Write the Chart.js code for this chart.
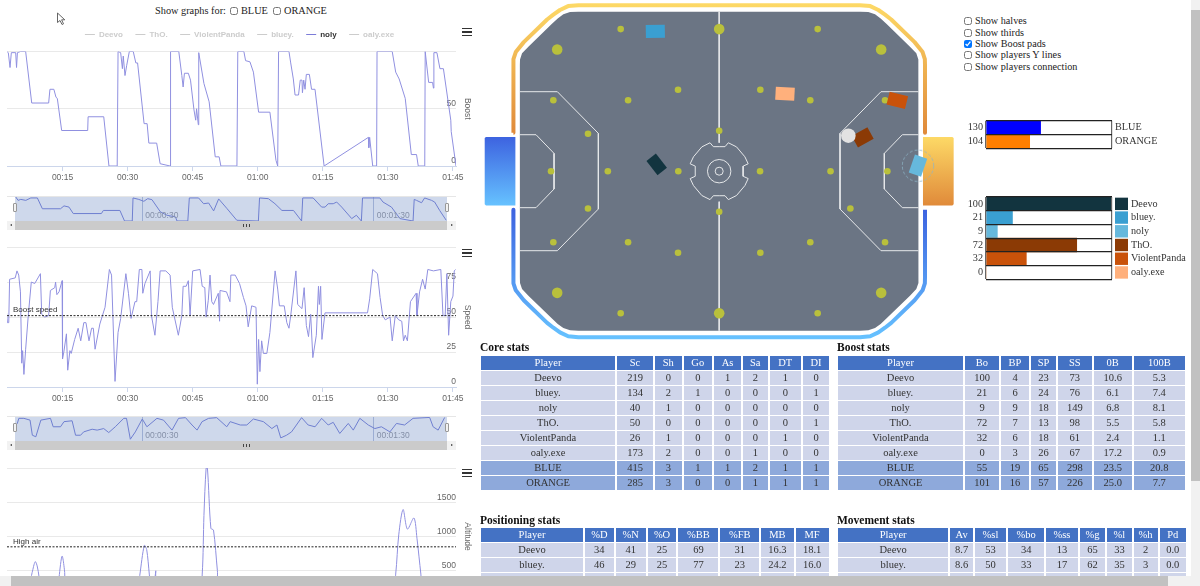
<!DOCTYPE html>
<html><head><meta charset="utf-8">
<script src="https://cdn.jsdelivr.net/npm/chart.js@4/dist/chart.umd.js"></script>
<style>
html,body{margin:0;padding:0;width:1200px;height:586px;overflow:hidden;background:#fff;font-family:"Liberation Serif",serif;color:#222}
canvas{position:absolute;display:block}
.abs{position:absolute}
.h{position:absolute;font-weight:bold;font-size:11.5px;color:#111;white-space:nowrap}
.opt{position:absolute;left:964px;font-size:10.2px;line-height:11px;white-space:nowrap;height:11px}
.top{position:absolute;top:5px;font-size:10.3px;line-height:12px;white-space:nowrap}
input[type=checkbox]{width:8px;height:8px;margin:0 3px 0 0;vertical-align:-1px}
table{position:absolute;border-collapse:separate;border-spacing:2px 1px;table-layout:fixed;font-size:10.5px;color:#333;text-align:center}
th{background:#4472c4;color:#fff;font-weight:normal;height:14px;padding:0;line-height:14px}
td{background:#cfd5ea;height:14px;padding:0;line-height:14px}
tr.team td{background:#8ea9db}
.burger{position:absolute;left:462px;width:10px;height:9px;border-top:1.7px solid #333;box-sizing:border-box}
.burger:before,.burger:after{content:"";position:absolute;left:0;width:10px;height:1.7px;background:#333}
.burger:before{top:1.9px}.burger:after{top:5.6px}
.track{position:absolute;left:7px;width:449px;height:9px;background:#f2f2f2}
.thumb{position:absolute;left:15px;width:432px;height:9px;background:#cbcbcb}
.grip{position:absolute;left:228px;top:3px;width:5px;height:3px;border-left:1px solid #444;border-right:1px solid #444}
.grip:after{content:"";position:absolute;left:1.5px;top:0;width:1px;height:3px;background:#444}
.arrL,.arrR{position:absolute;top:3px;width:0;height:0;border-top:1.5px solid transparent;border-bottom:1.5px solid transparent}
.arrL{left:3px;border-right:2.5px solid #333}.arrR{left:443.5px;border-left:2.5px solid #333}
.handle{position:absolute;width:4px;height:9px;background:#f2f2f2;border:1px solid #999;box-sizing:border-box;border-radius:1px}
.navtop{position:absolute;left:7px;width:449px;height:1px;background:#e6e6e6}
</style></head>
<body>
<div class="top" style="left:155px">Show graphs for:</div>
<div class="top" style="left:230px"><input type="checkbox">BLUE</div>
<div class="top" style="left:273px"><input type="checkbox">ORANGE</div>
<svg class="abs" style="left:56px;top:12px" width="10" height="14" viewBox="0 0 10 14"><path d="M1.5 1 L1.5 10.5 L4 8.5 L6 12.5 L7.5 11.8 L5.6 7.8 L8.8 7.8 Z" fill="#fff" stroke="#555" stroke-width="0.9"/></svg>

<canvas id="boostChart" width="472" height="168" style="left:0;top:18px"></canvas>
<div class="burger" style="top:28px"></div>
<div class="navtop" style="top:196px"></div>
<canvas id="boostNav" width="432" height="24" style="left:15px;top:197px"></canvas>
<div class="track" style="top:221px"><div class="thumb" style="left:8px"><div class="grip"></div></div><div class="arrL"></div><div class="arrR"></div></div>
<div class="handle" style="left:13px;top:203px"></div><div class="handle" style="left:445px;top:203px"></div>

<canvas id="speedChart" width="472" height="165" style="left:0;top:242px"></canvas>
<div class="burger" style="top:249px"></div>
<div class="navtop" style="top:416px"></div>
<canvas id="speedNav" width="432" height="24" style="left:15px;top:417px"></canvas>
<div class="track" style="top:441px"><div class="thumb" style="left:8px"><div class="grip"></div></div><div class="arrL"></div><div class="arrR"></div></div>
<div class="handle" style="left:13px;top:423px"></div><div class="handle" style="left:445px;top:423px"></div>

<canvas id="altChart" width="472" height="162" style="left:0;top:463px"></canvas>
<div class="burger" style="top:469px"></div>

<canvas id="pitch" width="480" height="342" style="left:480px;top:0"></canvas>

<div class="opt" style="top:15px"><input type="checkbox">Show halves</div>
<div class="opt" style="top:26.5px"><input type="checkbox">Show thirds</div>
<div class="opt" style="top:38px"><input type="checkbox" checked>Show Boost pads</div>
<div class="opt" style="top:49px"><input type="checkbox">Show players Y lines</div>
<div class="opt" style="top:60.5px"><input type="checkbox">Show players connection</div>

<canvas id="teamBars" width="210" height="38" style="left:960px;top:115px"></canvas>
<canvas id="playerBars" width="230" height="92" style="left:960px;top:192px"></canvas>

<div class="h" style="left:480px;top:341px">Core stats</div>
<table id="coreT" style="left:479px;top:355px"></table>
<div class="h" style="left:837px;top:341px">Boost stats</div>
<table id="boostT" style="left:836px;top:355px"></table>
<div class="h" style="left:480px;top:514px">Positioning stats</div>
<table id="posT" style="left:479px;top:527px"></table>
<div class="h" style="left:837px;top:514px">Movement stats</div>
<table id="moveT" style="left:836px;top:527px"></table>

<div class="abs" style="left:1191px;top:0;width:9px;height:576px;background:#f1f1f1"><div class="abs" style="left:0;top:10px;width:9px;height:471px;background:#c1c1c1"></div></div>
<div class="abs" style="left:0;top:576px;width:1200px;height:10px;background:#f1f1f1"><div class="abs" style="left:11px;top:0;width:1157px;height:10px;background:#c1c1c1"></div></div>

<script>
// ---------- players ----------
const players = ['Deevo','bluey.','noly','ThO.','ViolentPanda','oaly.exe'];
const legendOrder = ['Deevo','ThO.','ViolentPanda','bluey.','noly','oaly.exe'];
const activePlayer = 'noly';
const playerColors = ['#12343f','#3a9fd1','#66b8dc','#8b3a05','#c9520a','#ffb07c'];
const playerBoost = [100,21,9,72,32,0];
const teams = ['BLUE','ORANGE'];
const teamColors = ['#0000ff','#ff7f00'];
const teamBoost = [130,104];

// ---------- boost (noly) ----------
const boostTimes = [2.2,2.5,2.9,3.2,4.2,4.4,4.6,5.3,6.5,7.9,11.8,12.1,13.0,13.5,13.8,14.8,20.8,20.9,24.5,25.7,27.6,27.8,28.4,28.8,29.0,29.4,29.8,30.4,31.3,31.9,32.3,33.8,34.5,34.9,36.7,37.5,39.8,39.9,41.8,42.5,42.8,43.1,44.0,44.5,45.3,45.7,45.9,46.3,46.4,47.6,48.8,50.2,51.1,51.5,55.2,55.4,56.8,57.2,58.2,59.0,60.2,62.8,64.2,64.6,64.8,67.2,67.6,68.2,68.6,69.4,69.8,70.2,70.3,70.6,70.9,71.2,71.9,72.4,73.2,75.3,85.5,85.6,85.8,86.5,87.4,87.5,91.0,91.8,92.6,94.0,95.4,96.6,97.0,98.5,98.6,99.4,100.3,100.5,100.6,101.3,102,102.8,104.5,104.6,105.7];
const boostValues = [100,99,86,99,99,86,99,100,100,55,55,67,67,60,59,31,31,43,43,0,0,100,99,85,96,79,88,100,100,90,90,37,37,20,20,2,0,100,100,79,69,81,81,75,49,40,50,36,99,72,56,8,8,0,0,100,100,92,91,82,47,47,5,0,100,100,90,76,62,62,75,75,64,75,67,80,80,67,67,0,25,16,25,0,0,100,100,82,76,59,10,10,0,0,100,73,73,68,99,99,85,85,40,30,0];
const boostNavTimes = [-2.8,-2.2,-1.5,-0.2,1.1,2.8,4.1,8.8,9.7,11,12.1,19.4,19.9,24.2,25.4,27.4,27.6,29.1,30.4,31.4,32.5,34.7,36.4,38.6,39,41.8,42.2,44.6,45.9,47.2,48.5,49.8,52,54.5,60.1,60.4,62.7,64.4,66.2,69.2,71.3,71.6,74.3,76.5,77.4,78.2,79.5,80.4,81.7,84.3,85.5,86.8,87.1,91.6,92.4,94.6,96.8,100.2,100.5,101.1,102.4,103.2,105,105.8,107.1,108.8];
const boostNavValues = [100,86,90,86,96,96,51,51,63,58,31,31,44,44,0,0,96,90,82,93,89,38,24,17,0,0,96,96,72,75,42,92,51,3,0,96,93,72,44,44,0,96,96,58,58,72,72,79,58,10,24,0,96,96,79,58,10,0,90,86,76,96,86,79,44,3];

// ---------- speed (noly) ----------
const speedTimes = [2.1,2.3,2.6,2.8,4.1,4.5,4.9,5.3,5.6,5.8,6.1,6.5,7.1,7.8,8.6,9.9,10.2,10.9,11.8,12.2,13.2,13.4,13.7,14.2,14.9,15.0,15.3,15.9,16.2,16.7,17.0,17.8,18.6,19.2,19.9,20.4,21.1,21.7,22.1,22.5,23.6,24.8,25.8,26.3,27.1,27.8,28.4,29.6,30.2,30.8,31.7,32.1,32.7,33.3,33.5,34,35.2,35.5,36.3,37,37.5,38.8,39.8,40.3,41.7,42.5,42.8,43.5,44,44.4,45,46.7,47.2,47.8,48.1,48.6,49,49.4,49.8,50.9,51.2,51.3,52.8,53.6,53.8,54.8,55.8,56.7,57.3,57.8,58.6,59.6,59.9,60.2,60.5,60.9,61.3,62.1,62.8,64,64.6,65,66.1,66.7,67.2,67.6,68.8,69.2,70.2,70.7,71.2,71.7,72.2,72.7,73.5,74,74.2,74.5,74.8,75.5,85.3,85.8,86.5,87.6,88.2,88.8,89.4,90.5,91,91.7,92.5,93.2,93.6,94,94.5,95.2,96.5,96.7,97.3,98,98.6,99.2,100.5,102.2,102.7,103.2,103.6,104,104.5,105,105.3,105.6];
const speedValues = [53,46,46,77,78,83,80,68,17,26,9,27,51,75,74,81,52,50,51,69,71,75,66,68,76,20,25,38,12,26,24,34,42,33,46,46,33,42,42,27,45,57,84,80,4,39,49,81,67,49,61,61,84,84,67,74,83,51,37,61,83,83,80,57,37,51,72,72,76,51,83,84,72,71,50,62,80,61,59,67,47,69,68,61,80,80,74,64,58,43,58,57,2,34,11,33,24,24,39,83,70,58,58,46,42,51,83,59,56,71,44,36,52,21,37,72,59,72,34,53,53,63,84,81,64,51,48,50,33,51,48,47,33,37,33,61,67,51,68,77,70,84,83,84,51,51,81,37,61,65,83,84];
const speedNavTimes = [-2.8,-2.4,-2,-0.7,0.9,1.5,2.4,3.7,6.2,6.9,8.8,9.7,11.8,12.7,14,14.8,17,18.3,20,21.3,23,25.2,25.9,26.9,28.2,30,31.2,33.8,35.5,37.7,39.4,41.2,42.9,44.2,45.5,47.2,49.3,51.9,52.8,55.4,57.1,58.8,61.4,63.6,64.9,65.9,67.4,68.7,71.3,73,74.8,76.5,78.2,79.5,81.2,83.4,84.7,86.4,88.6,90.3,92,94.2,95.9,98,100.2,104.5,105.4,106.7,108.4];
const speedNavValues = [64,71,94,94,86,18,11,86,94,56,56,79,83,18,18,33,45,41,48,30,56,94,94,0,33,91,56,94,86,41,94,97,64,41,79,94,97,56,79,64,64,91,79,48,64,6,18,33,97,64,56,94,64,76,26,71,41,94,64,48,56,33,71,64,94,98,56,41,98];

// ---------- altitude (noly) ----------
const altTimes = [2.2,7.0,7.85,8.0,8.7,9.15,9.6,10.2,13.6,14.2,14.9,15.5,16.0,31.9,32.8,33.85,34.4,35.0,35.7,36.3,36.5,36.7,46.3,47.2,47.6,48.1,48.4,49.2,49.8,50.7,51.5,90.8,91.8,92.5,93.5,94.5,96,96.7,97.6,98.4,105.7];
const altValues = [20,20,430,476,633,571,405,20,20,405,714,476,20,20,429,871,809,452,20,20,500,20,20,452,1309,2000,2000,1119,1095,500,20,20,452,1024,1395,1109,1271,976,452,20,20];

// ---------- axes and reference lines ----------
const timeMin = 2.2, timeMax = 105.7, timeStep = 15;
const navMin = -3, navMax = 109, navTicks = [30,90];
const boostSpeedLevel = 51, highAirLevel = 850;

// ---------- pitch (game units) ----------
const smallPadX = [-2530,2530,-2530,2530,-1057,1057,-1057,1057,-2340,2340,-2340,2340,-4260,4260,-4260,4260,-3370,3370,-3370,3370,-4320,4320,-2860,2860,-1050,1050,0,0];
const smallPadY = [-3650,-3650,3650,3650,-2093,-2093,2093,2093,-1824,-1824,1824,1824,-1824,-1824,1824,1824,-960,-960,960,960,0,0,0,0,0,0,-1040,1040];
const bigPadX = [-4161,4161,-4161,4161,0,0];
const bigPadY = [-3125,-3125,3125,3125,-3650,3650];
const playerX = [-1605,-1640,5107,3686,4576,1691];
const playerY = [-176,-3592,-141,-869,-1819,-1991];
const playerAngle = [52,-1,109,-29,14,3];
const ballX = [3318], ballY = [-912];
const fieldCornerL = [5120,5116,5064,4901,4302,4148,4003,3831,3617];
const fieldCornerW = [2727,2872,3027,3198,3780,3925,4028,4088,4096];
const bandCornerL = [5287,5283,5225,5020,4420,4260,4090,3880,3617];
const bandCornerW = [2727,2880,3060,3315,3897,4020,4140,4240,4263];
const bandEnd = 990;
const goalL = [5235,5235,5990,6023,6023,5990,5235];
const goalW = [-880,-880,-880,-850,850,880,880];
const penaltyL = [5120,4157,3104,3104,4157,5120];
const penaltyW = [-2042,-2042,-972,972,2042,2042];
const innerL = [5120,4705,4242,4242,4705,5120];
const innerW = [-937,-937,-458,458,937,937];
const ringA = [0,150,235,445,660,745,615,615];
const ringB = [630,630,730,625,370,190,130,0];
const midlineTop = [-4096,-732], midlineBottom = [783,4096];

// ---------- tables ----------
const coreHead = ['Player','Sc','Sh','Go','As','Sa','DT','DI'];
const coreRows = [['Deevo',219,0,0,1,2,1,0],['bluey.',134,2,1,0,0,0,1],['noly',40,1,0,0,0,0,0],['ThO.',50,0,0,0,0,0,1],['ViolentPanda',26,1,0,0,0,1,0],['oaly.exe',173,2,0,0,1,0,0],['BLUE',415,3,1,1,2,1,1],['ORANGE',285,3,0,0,1,1,1]];
const boostHead = ['Player','Bo','BP','SP','SS','0B','100B'];
const boostRows = [['Deevo',100,4,23,73,'10.6','5.3'],['bluey.',21,6,24,76,'6.1','7.4'],['noly',9,9,18,149,'6.8','8.1'],['ThO.',72,7,13,98,'5.5','5.8'],['ViolentPanda',32,6,18,61,'2.4','1.1'],['oaly.exe',0,3,26,67,'17.2','0.9'],['BLUE',55,19,65,298,'23.5','20.8'],['ORANGE',101,16,57,226,'25.0','7.7']];
const posHead = ['Player','%D','%N','%O','%BB','%FB','MB','MF'];
const posRows = [['Deevo',34,41,25,69,31,'16.3','18.1'],['bluey.',46,29,25,77,23,'24.2','16.0'],['','','','','','','','']];
const moveHead = ['Player','Av','%sl','%bo','%ss','%g','%l','%h','Pd'];
const moveRows = [['Deevo','8.7',53,34,13,65,33,2,'0.0'],['bluey.','8.6',50,33,17,62,35,3,'0.0'],['','','','','','','','','']];

// ==================== drawing ====================
const SANS = '"Liberation Sans",Arial,sans-serif';
const SERIF = '"Liberation Serif",serif';
Chart.defaults.animation = false;
Chart.defaults.responsive = false;
Chart.defaults.maintainAspectRatio = false;
Chart.defaults.font.family = SANS;
const LINE = '#9090e0';
const pts = (xs, ys) => xs.map((x, i) => ({x, y: ys[i]}));
const mmss = v => { const m = Math.floor(v / 60), s = Math.round(v - m * 60); return String(m).padStart(2,'0') + ':' + String(s).padStart(2,'0'); };
const hms = v => '00:' + mmss(v);

function levelLabel(text) {
  return { id: 'levelLabel', afterDatasetsDraw(chart, a, o) {
    const c = chart.ctx; const y = chart.scales.y.getPixelForValue(o.level);
    c.save(); c.font = '8px ' + SANS; c.fillStyle = '#333'; c.textBaseline = 'bottom';
    c.fillText(text, 13, y - 1.5); c.restore();
  }};
}

function mainChart(id, xs, ys, yTitle, yMax, yStep, level, levelText, topPad, legendOpt, tension, spacer) {
  const datasets = [{ data: pts(xs, ys), borderColor: LINE, borderWidth: 1, pointRadius: 0, tension: tension || 0 }];
  if (level !== null) datasets.unshift({ data: [{x: timeMin, y: level},{x: timeMax, y: level}], borderColor: '#222', borderWidth: 1, borderDash: [2,1.5], pointRadius: 0 });
  return new Chart(document.getElementById(id), {
    type: 'scatter',
    data: { datasets: datasets.map(d => ({...d, showLine: true})) },
    options: {
      layout: { autoPadding: false, padding: { left: 7, right: 0, top: topPad, bottom: 0 } },
      plugins: { legend: legendOpt || { display: false }, tooltip: { enabled: false }, levelLabel: { level },
        title: spacer ? { display: true, text: '', weight: 500, font: { size: 1 }, padding: { top: spacer, bottom: spacer } } : { display: false } },
      scales: {
        x: { type: 'linear', min: timeMin, max: timeMax,
          afterFit: s => { s.height = 20; },
          border: { color: '#ccd6eb' },
          grid: { drawOnChartArea: false, tickLength: 5, tickColor: '#ccd6eb' },
          ticks: { stepSize: timeStep, includeBounds: false, autoSkip: false, maxRotation: 0, padding: 2, color: '#666', font: { size: 8.5 }, callback: v => mmss(v) } },
        y: { type: 'linear', position: 'right', min: 0, max: yMax,
          afterFit: s => { s.width = 16; },
          border: { display: false },
          grid: { color: '#e9e9e9', drawTicks: false },
          title: { display: true, text: yTitle, color: '#666', font: { size: 8.5 }, padding: 0 },
          ticks: { stepSize: yStep, mirror: true, padding: 0, labelOffset: -5, color: '#666', font: { size: 8.5 }, callback: v => v === yMax ? '' : String(v) } }
      }
    },
    plugins: level !== null ? [levelLabel(levelText)] : []
  });
}

mainChart('boostChart', boostTimes, boostValues, 'Boost', 100, 50, null, '', 0, {
  display: true, position: 'top',
  labels: { usePointStyle: true, pointStyleWidth: 10, padding: 12.5, font: { size: 8, weight: 'bold' },
    generateLabels: () => legendOrder.map(n => ({ text: n, pointStyle: 'line', lineWidth: 1.2,
      strokeStyle: n === activePlayer ? '#7c7cd8' : '#ccc', fillStyle: 'transparent', fontColor: n === activePlayer ? '#333' : '#ccc', hidden: false })) }
}, 0, 0.9);
mainChart('speedChart', speedTimes, speedValues, 'Speed', 100, 25, boostSpeedLevel, 'Boost speed', 2.3);
mainChart('altChart', altTimes, altValues, 'Altitude', 2000, 500, highAirLevel, 'High air', 2, null, 0.3);

function navChart(id, xs, ys, yMin) {
  const navLabels = { id: 'navLabels', afterDraw(chart) {
    const c = chart.ctx, s = chart.scales.x;
    c.save(); c.font = '8.5px ' + SANS; c.fillStyle = '#8590a8'; c.textBaseline = 'middle';
    navTicks.forEach(t => c.fillText(hms(t), s.getPixelForValue(t) + 3, 19));
    c.restore();
  }};
  return new Chart(document.getElementById(id), {
    type: 'scatter',
    data: { datasets: [
      { data: pts(xs, ys), showLine: true, borderColor: '#6f7fd0', borderWidth: 1, pointRadius: 0 },
      { data: [{x: navMin, y: 100},{x: navMax, y: 100}], showLine: true, borderWidth: 0, pointRadius: 0, fill: 'start', backgroundColor: 'rgba(102,133,194,0.32)' }
    ] },
    options: {
      layout: { autoPadding: false, padding: 0 },
      plugins: { legend: { display: false }, tooltip: { enabled: false } },
      scales: {
        x: { type: 'linear', min: navMin, max: navMax, afterFit: s => { s.height = 0; },
          afterBuildTicks: s => { s.ticks = navTicks.map(value => ({value})); },
          border: { display: false },
          grid: { color: '#b5c0dc', drawTicks: false },
          ticks: { display: false } },
        y: { display: false, min: yMin, max: 100 }
      }
    },
    plugins: [navLabels]
  });
}
navChart('boostNav', boostNavTimes, boostNavValues, 0);
navChart('speedNav', speedNavTimes, speedNavValues, -8);

// ---------- pitch ----------
function quarterLoop(ls, ws) {
  const out = [];
  ls.forEach((l, i) => out.push({x: -l, y: -ws[i]}));
  [...ls].reverse().forEach((l, i) => out.push({x: l, y: -ws[ws.length - 1 - i]}));
  ls.forEach((l, i) => out.push({x: l, y: ws[i]}));
  [...ls].reverse().forEach((l, i) => out.push({x: -l, y: ws[ws.length - 1 - i]}));
  out.push({...out[0]});
  return out;
}
function arcTop(ls, ws, sign) {
  const out = [{x: -ls[0], y: sign * bandEnd}];
  ls.forEach((l, i) => out.push({x: -l, y: sign * ws[i]}));
  [...ls].reverse().forEach((l, i) => out.push({x: l, y: sign * ws[ws.length - 1 - i]}));
  out.push({x: ls[0], y: sign * bandEnd});
  return out;
}
function ringLoop(a, b) {
  const out = [];
  a.forEach((v, i) => out.push({x: v, y: -b[i]}));
  [...a].reverse().forEach((v, i) => out.push({x: v, y: b[b.length - 1 - i]}));
  a.forEach((v, i) => out.push({x: -v, y: b[i]}));
  [...a].reverse().forEach((v, i) => out.push({x: -v, y: -b[b.length - 1 - i]}));
  return out;
}
function vGrad(chart, v1, v2, c1, c2) {
  const sy = chart.scales.y;
  if (!sy || !chart.chartArea) return c1;
  const g = chart.ctx.createLinearGradient(0, sy.getPixelForValue(v1), 0, sy.getPixelForValue(v2));
  g.addColorStop(0, c1); g.addColorStop(1, c2); return g;
}
function rectSprite(color, w, h) {
  const c = document.createElement('canvas'); c.width = w; c.height = h;
  const x = c.getContext('2d'); x.fillStyle = color; x.fillRect(0, 0, w, h); return c;
}
function dashSprite() {
  const c = document.createElement('canvas'); c.width = 34; c.height = 34;
  const x = c.getContext('2d'); x.strokeStyle = '#8fb6c8'; x.lineWidth = 0.8; x.setLineDash([3,2]);
  x.beginPath(); x.arc(17, 17, 15.7, 0, Math.PI * 2); x.stroke(); return c;
}
const playerSprites = playerColors.map((c, i) => rectSprite(c, i === 0 || i === 3 ? 18 : 19, i === 0 ? 12 : 13));
const ringSprite = dashSprite();
const lineStyle = { showLine: true, pointRadius: 0, borderColor: '#e6e8ea', borderWidth: 1, fill: false };
const TOPC = ['#fdd966','#e08a3a'], BOTC = ['#3d63e0','#66c2ff'];
const layers = [
  { data: quarterLoop(fieldCornerL, fieldCornerW), showLine: true, pointRadius: 0, borderWidth: 0, fill: 'shape', backgroundColor: '#6b7584' },
  { data: goalL.map((l, i) => ({x: -l, y: goalW[i]})), showLine: true, pointRadius: 0, borderWidth: 0, fill: 'shape', backgroundColor: c => vGrad(c.chart, -880, 880, BOTC[0], BOTC[1]) },
  { data: goalL.map((l, i) => ({x: l, y: goalW[i]})), showLine: true, pointRadius: 0, borderWidth: 0, fill: 'shape', backgroundColor: c => vGrad(c.chart, -880, 880, TOPC[0], TOPC[1]) },
  { data: arcTop(bandCornerL, bandCornerW, -1), showLine: true, pointRadius: 0, borderWidth: 4, borderCapStyle: 'butt', borderJoinStyle: 'round', borderColor: c => vGrad(c.chart, -4300, -990, TOPC[0], TOPC[1]) },
  { data: arcTop(bandCornerL, bandCornerW, 1), showLine: true, pointRadius: 0, borderWidth: 4, borderCapStyle: 'butt', borderJoinStyle: 'round', borderColor: c => vGrad(c.chart, 990, 4300, BOTC[0], BOTC[1]) },
  { data: midlineTop.map(y => ({x: 0, y})), ...lineStyle },
  { data: midlineBottom.map(y => ({x: 0, y})), ...lineStyle },
  { data: penaltyL.map((l, i) => ({x: -l, y: penaltyW[i]})), ...lineStyle },
  { data: penaltyL.map((l, i) => ({x: l, y: penaltyW[i]})), ...lineStyle },
  { data: innerL.map((l, i) => ({x: -l, y: innerW[i]})), ...lineStyle },
  { data: innerL.map((l, i) => ({x: l, y: innerW[i]})), ...lineStyle },
  { data: ringLoop(ringA, ringB), ...lineStyle },
  { data: [{x: 0, y: 0}], pointRadius: 11.7, backgroundColor: 'transparent', borderColor: '#e6e8ea', borderWidth: 1 },
  { data: [{x: 0, y: 0}], pointRadius: 4, backgroundColor: 'transparent', borderColor: '#e6e8ea', borderWidth: 1 },
  { data: pts(smallPadX, smallPadY), pointRadius: 3.3, pointBorderWidth: 0, backgroundColor: '#b9c03c' },
  { data: pts(bigPadX, bigPadY), pointRadius: 5.3, pointBorderWidth: 0, backgroundColor: '#b9c03c' },
  { data: pts(playerX, playerY), pointRadius: 9, pointStyle: c => playerSprites[c.dataIndex], pointRotation: c => playerAngle[c.dataIndex] },
  { data: [{x: playerX[2], y: playerY[2]}], pointRadius: 16, pointStyle: ringSprite },
  { data: pts(ballX, ballY), pointRadius: 7.3, pointBorderWidth: 0, backgroundColor: '#e2e2e2' }
];
new Chart(document.getElementById('pitch'), {
  type: 'scatter',
  data: { datasets: layers.slice().reverse().map(d => ({ clip: false, ...d })) },
  options: {
    layout: { autoPadding: false, padding: 0 },
    plugins: { legend: { display: false }, tooltip: { enabled: false } },
    scales: {
      x: { display: false, type: 'linear', min: -6144, max: 6186 },
      y: { display: false, type: 'linear', reverse: true, min: -4397, max: 4387 }
    }
  }
});

// ---------- boost bars ----------
function barChart(id, names, values, colors, max, pad, rightWidth, swatch) {
  const rowNames = { id: 'rowNames', afterDraw(chart) {
    const c = chart.ctx, s = chart.scales.y, a = chart.chartArea, x = a.right + 3;
    c.save(); c.font = '10.2px ' + SERIF; c.textBaseline = 'middle';
    names.forEach((n, i) => {
      const y = s.getPixelForValue(i);
      if (swatch) { c.fillStyle = colors[i]; c.fillRect(x, y - 6.2, 13, 12.4); }
      c.fillStyle = '#333'; c.textAlign = 'left';
      c.fillText(n, swatch ? x + 16 : x, y);
      c.textAlign = 'right';
      c.fillText(String(values[i]), a.left - 3, y);
    });
    c.restore();
  }};
  return new Chart(document.getElementById(id), {
    type: 'bar',
    data: { labels: names, datasets: [{ data: values, backgroundColor: colors, borderWidth: 0, categoryPercentage: 1, barPercentage: 1 }] },
    options: {
      indexAxis: 'y',
      layout: { autoPadding: false, padding: { ...pad, left: 0, right: rightWidth } },
      plugins: { legend: { display: false }, tooltip: { enabled: false } },
      scales: {
        x: { min: 0, max, afterFit: s => { s.height = 0; },
          ticks: { display: false, stepSize: max },
          border: { display: false },
          grid: { color: '#666', lineWidth: 1.2, drawTicks: false, z: 1 } },
        y: { type: 'category', position: 'left', afterFit: s => { s.width = 26; },
          border: { display: false },
          grid: { offset: true, color: '#222', lineWidth: 1.2, drawTicks: false, z: 1 },
          ticks: { display: false, autoSkip: false } }
      }
    },
    plugins: [rowNames]
  });
}
barChart('teamBars', teams, teamBoost, teamColors, 300, { top: 5.7, bottom: 4.7 }, 58, false);
barChart('playerBars', players, playerBoost, playerColors, 100, { top: 5, bottom: 4.7 }, 78, true);

// ---------- tables ----------
function fillTable(id, head, rows, widths, teamFrom) {
  const t = document.getElementById(id);
  t.style.width = (widths.reduce((a, b) => a + b, 0) + 2 * (widths.length + 1)) + 'px';
  let h = '<colgroup>' + widths.map(w => `<col style="width:${w}px">`).join('') + '</colgroup>';
  h += '<tr>' + head.map(c => `<th>${c}</th>`).join('') + '</tr>';
  rows.forEach((r, i) => { h += `<tr class="${i >= teamFrom ? 'team' : ''}">` + r.map(c => `<td>${c}</td>`).join('') + '</tr>'; });
  t.innerHTML = h;
}
fillTable('coreT', coreHead, coreRows, [134,36,26.5,28.5,27,24.5,31.5,26], 6);
fillTable('boostT', boostHead, boostRows, [125,34,28,25,33.5,38.5,50.6], 6);
fillTable('posT', posHead, posRows, [102,28.7,30,28.7,40,38.7,32.7,32.7], 99);
fillTable('moveT', moveHead, moveRows, [110.3,22.7,31,36.3,31.3,25.7,24.3,24,26.3], 99);
</script>
</body></html>
